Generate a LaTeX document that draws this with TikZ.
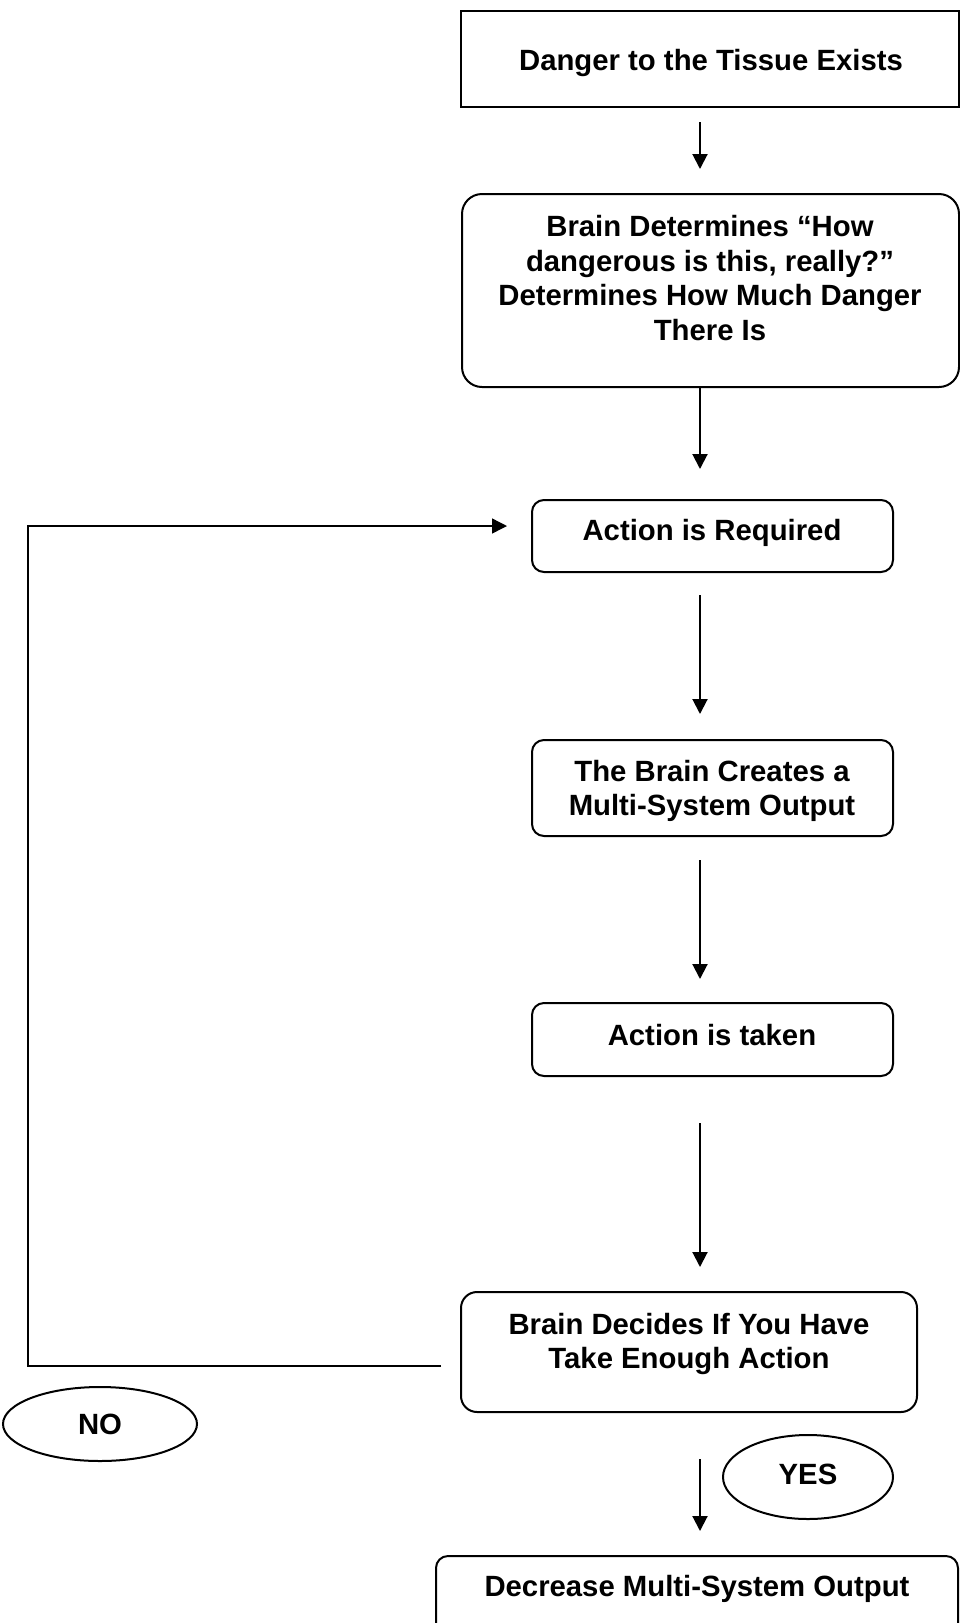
\documentclass[tikz,border=0pt]{standalone}
\usepackage{fontspec}
\setmainfont{Liberation Sans}
\usetikzlibrary{arrows.meta,shapes.geometric,calc}
\tikzset{
  box/.style={draw=black, line width=2pt, minimum width=#1, inner sep=0pt},
  rbox/.style={box=#1, rounded corners=12pt},
  txt/.style={align=center, inner sep=0pt, font=\fontsize{29.3}{34.5}\selectfont\bfseries},
  oval/.style={draw=black, line width=2pt, ellipse, inner sep=0pt},
  flow/.style={line width=2pt, -{Triangle[length=15pt,width=15pt]}},
  loopline/.style={line width=1.4pt, -{Triangle[length=15pt,width=15pt]}}
}
\begin{document}
\begin{tikzpicture}[x=1pt,y=-1pt]
\useasboundingbox (0,0) rectangle (960,1623);
\clip (0,0) rectangle (960,1623);
\fill[white] (0,0) rectangle (960,1623);

% boxes
\node[box=498pt, minimum height=96pt] (top) at (710,59) {};
\node[txt] (topt) at (711,63) {Danger to the Tissue Exists};

\node[box=497pt, minimum height=193pt, rounded corners=20pt] (b2) at (710.5,290.5) {};
\node[txt] (b2t) at (710,278) {Brain Determines “How\\dangerous is this, really?”\\Determines How Much Danger\\There Is};

\node[rbox=361pt, minimum height=72pt] (b3) at (712.5,536) {};
\node[txt] (b3t) at (712,533) {Action is Required};

\node[rbox=361pt, minimum height=96pt] (b4) at (712.5,788) {};
\node[txt] (b4t) at (712,791) {The Brain Creates a\\Multi-System Output};

\node[rbox=361pt, minimum height=73pt] (b5) at (712.5,1039.5) {};
\node[txt] (b5t) at (712,1035) {Action is taken};

\node[box=456pt, minimum height=120pt, rounded corners=16pt] (b6) at (689,1352) {};
\node[txt] (b6t) at (689,1344) {Brain Decides If You Have\\Take Enough Action};

\node[rbox=522pt, minimum height=100pt] (b7) at (697,1606) {};
\node[txt] (b7t) at (697,1589) {Decrease Multi-System Output};

% ovals
\node[oval, minimum width=194pt, minimum height=74pt] (no) at (100,1424) {};
\node[txt] (not) at (100,1424) {NO};
\node[oval, minimum width=170pt, minimum height=84pt] (yes) at (808,1477) {};
\node[txt] (yest) at (808,1474) {YES};

% arrow end points
\coordinate (a1s) at (700,122);  \coordinate (a1e) at (700,169);
\coordinate (a2s) at (700,387);  \coordinate (a2e) at (700,469);
\coordinate (a3s) at (700,595);  \coordinate (a3e) at (700,714);
\coordinate (a4s) at (700,860);  \coordinate (a4e) at (700,979);
\coordinate (a5s) at (700,1123); \coordinate (a5e) at (700,1267);
\coordinate (a6s) at (700,1459); \coordinate (a6e) at (700,1531);
\coordinate (ls) at (441,1366);
\coordinate (lc1) at (28,1366);
\coordinate (lc2) at (28,526);
\coordinate (le) at (507,526);

\draw[flow] (a1s) -- (a1e);
\draw[flow] (a2s) -- (a2e);
\draw[flow] (a3s) -- (a3e);
\draw[flow] (a4s) -- (a4e);
\draw[flow] (a5s) -- (a5e);
\draw[flow] (a6s) -- (a6e);
\draw[loopline] (ls) -- (lc1) -- (lc2) -- (le);
\end{tikzpicture}
\end{document}
